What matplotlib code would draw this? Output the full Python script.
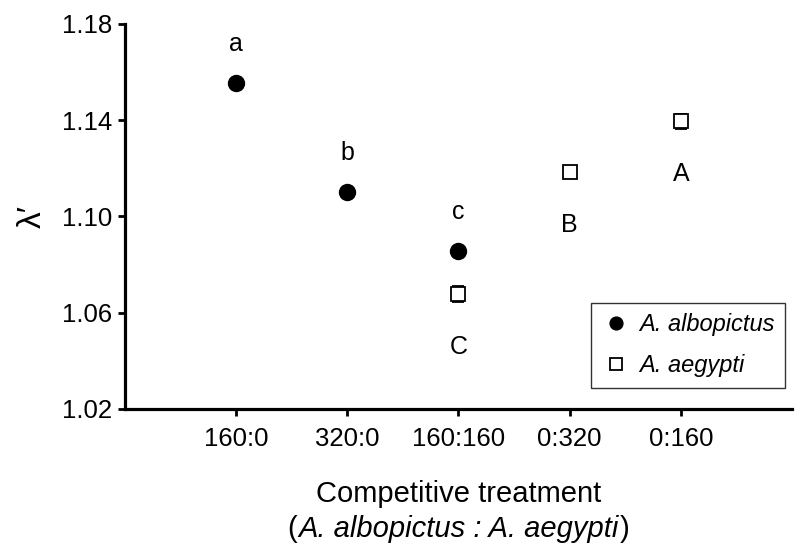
import matplotlib
matplotlib.use("Agg")
import matplotlib.pyplot as plt
from matplotlib.offsetbox import TextArea, HPacker, AnchoredOffsetbox

plt.rcParams['font.family'] = ['Liberation Sans', 'DejaVu Sans']

treatments = ['160:0', '320:0', '160:160', '0:320', '0:160']

# A. albopictus (first three treatments)
albo_x = [1, 2, 3]
albo_y = [1.1555, 1.1100, 1.0855]
albo_err = [0.001, 0.001, 0.001]
albo_letters = ['a', 'b', 'c']

# A. aegypti (last three treatments)
aeg_x = [3, 4, 5]
aeg_y = [1.0678, 1.1185, 1.1395]
aeg_err = [0.0032, 0.0016, 0.0030]
aeg_letters = ['C', 'B', 'A']

fig = plt.figure(figsize=(8, 5.54), dpi=100)
ax = fig.add_axes([0.156, 0.262, 0.834, 0.695])

ax.errorbar(albo_x, albo_y, yerr=albo_err, fmt='o', color='black', ms=11.5,
            capsize=3, elinewidth=1.2, label='A. albopictus', zorder=3)
ax.errorbar(aeg_x, aeg_y, yerr=aeg_err, fmt='s', color='black', mfc='white',
            mec='black', mew=1.3, ms=10.5, capsize=4, elinewidth=1.2,
            label='A. aegypti', zorder=3)

for x, y, t in zip(albo_x, albo_y, albo_letters):
    ax.annotate(t, (x, y), xytext=(0, 28), textcoords='offset points',
                ha='center', va='center', fontsize=18)
for x, y, t in zip(aeg_x, aeg_y, aeg_letters):
    ax.annotate(t, (x, y), xytext=(0, -38), textcoords='offset points',
                ha='center', va='center', fontsize=18)

ax.set_xlim(0, 6)
ax.set_ylim(1.02, 1.18)
ax.set_xticks([1, 2, 3, 4, 5])
ax.set_xticklabels(treatments)
ax.set_yticks([1.02, 1.06, 1.10, 1.14, 1.18])
ax.set_yticklabels(['1.02', '1.06', '1.10', '1.14', '1.18'])
ax.tick_params(axis='both', labelsize=18.5, width=2, length=5, direction='out')
ax.tick_params(axis='x', pad=8)
ax.tick_params(axis='y', pad=4)

ax.spines['top'].set_visible(False)
ax.spines['right'].set_visible(False)
ax.spines['left'].set_linewidth(2.3)
ax.spines['bottom'].set_linewidth(2.3)

ax.set_ylabel('λ′', fontsize=24, labelpad=10)

ax.text(0.5, -0.22, 'Competitive treatment', transform=ax.transAxes,
        ha='center', va='center', fontsize=21)

# second label line: italic species names inside upright parentheses
parts = [TextArea('(', textprops=dict(fontsize=21)),
         TextArea('A. albopictus : A. aegypti', textprops=dict(fontsize=21, style='italic')),
         TextArea(')', textprops=dict(fontsize=21))]
box = HPacker(children=parts, pad=0, sep=1, align='baseline')
anch = AnchoredOffsetbox(loc='center', child=box, frameon=False, pad=0,
                         bbox_to_anchor=(0.5, -0.313), bbox_transform=ax.transAxes,
                         borderpad=0)
ax.add_artist(anch)

handles, labels = ax.get_legend_handles_labels()
handles = [h[0] for h in handles]
leg = ax.legend(handles, labels, loc='lower right', bbox_to_anchor=(0.99, 0.055),
                prop={'style': 'italic', 'size': 17}, frameon=True, fancybox=False,
                handletextpad=0.4, handlelength=1.2, markerscale=0.8,
                borderpad=0.45, labelspacing=0.75, borderaxespad=0)
leg.get_frame().set_edgecolor('black')
leg.get_frame().set_linewidth(1.0)

fig.savefig('out.png', dpi=100)
